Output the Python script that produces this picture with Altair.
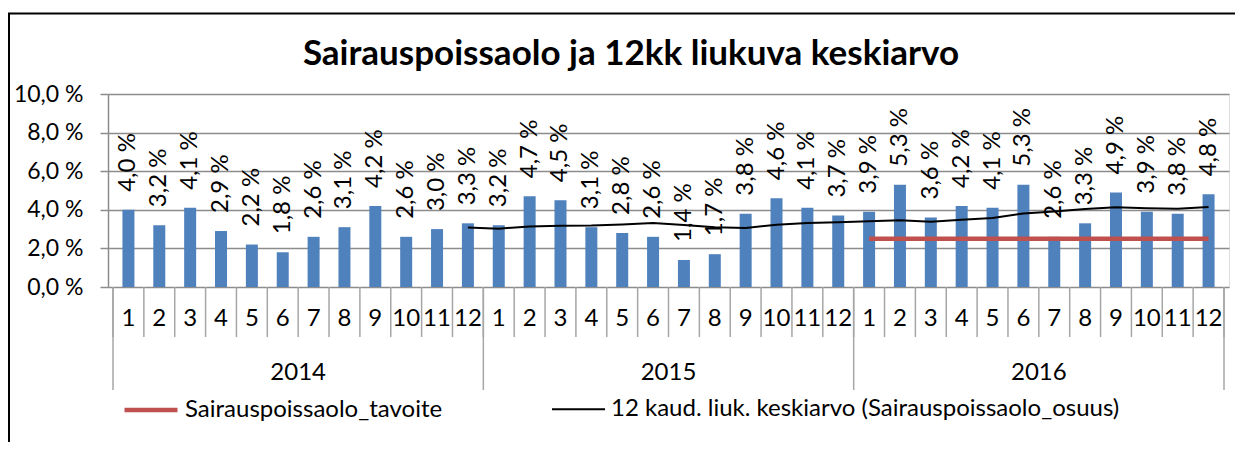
import altair as alt
import pandas as pd

# ---------------- data ----------------
years = ["2014", "2015", "2016"]
months = list(range(1, 13))
values = [4.0, 3.2, 4.1, 2.9, 2.2, 1.8, 2.6, 3.1, 4.2, 2.6, 3.0, 3.3,
          3.2, 4.7, 4.5, 3.1, 2.8, 2.6, 1.4, 1.7, 3.8, 4.6, 4.1, 3.7,
          3.9, 5.3, 3.6, 4.2, 4.1, 5.3, 2.6, 3.3, 4.9, 3.9, 3.8, 4.8]
# 12-month moving average, from 2014-12 to 2016-12
ma_start = 11
ma_values = [3.08, 3.02, 3.14, 3.18, 3.19, 3.24, 3.31, 3.21, 3.09, 3.06, 3.23, 3.32, 3.35,
             3.41, 3.46, 3.38, 3.48, 3.58, 3.81, 3.91, 4.04, 4.13, 4.08, 4.05, 4.14]
# target line, 2016-1 .. 2016-12
target_start = 24
target_values = [2.5] * 12
y_ticks = [0, 2, 4, 6, 8, 10]

series_names = ["Sairauspoissaolo_tavoite",
                "12 kaud. liuk. keskiarvo (Sairauspoissaolo_osuus)"]
title_text = "Sairauspoissaolo ja 12kk liukuva keskiarvo"

# ---------------- tables ----------------
n = len(values)
bars = pd.DataFrame({
    "pos": [i + 0.5 for i in range(n)],
    "value": values,
    "label": [f"{v:.1f}".replace(".", ",") + " %" for v in values],
    "month": [str(months[i % 12]) for i in range(n)],
})
lines = pd.DataFrame(
    [{"pos": target_start + i + 0.5, "v": v, "series": series_names[0]} for i, v in enumerate(target_values)]
    + [{"pos": ma_start + i + 0.5, "v": v, "series": series_names[1]} for i, v in enumerate(ma_values)]
)
month_sep = pd.DataFrame({"k": list(range(n + 1))})
year_sep = pd.DataFrame({"k": [0, 12, 24, 36]})
year_lab = pd.DataFrame({"pos": [6, 18, 30], "year": years})
frame = pd.DataFrame({"t": [title_text]})

W, H = 1121, 193
FONT = "Lato"
FS = 24
GRID = "#8c8c8c"
SEP = "#a6a6a6"

xs = alt.Scale(domain=[0, 36], nice=False, zero=False)
ys = alt.Scale(domain=[0, 10], nice=False)

y_axis = alt.Axis(values=y_ticks,
                  labelExpr="replace(format(datum.value, '.1f'), '.', ',') + ' %'",
                  labelOverlap=False,
                  grid=True, gridColor=GRID, gridWidth=1.5,
                  domainColor=GRID, domainWidth=1.5,
                  tickColor=GRID, tickWidth=1.5, tickSize=8,
                  labelFontSize=23, labelFont=FONT, labelColor="black",
                  labelPadding=17)

base_bars = alt.Chart(bars)

bar = base_bars.mark_bar(size=12, color="#4F81BD").encode(
    x=alt.X("pos:Q", scale=xs, axis=None),
    y=alt.Y("value:Q", scale=ys, title=None, axis=y_axis),
)

labels = base_bars.mark_text(angle=270, align="left", baseline="middle", dx=18,
                             fontSize=FS, font=FONT, color="black").encode(
    x=alt.X("pos:Q", scale=xs, axis=None),
    y=alt.Y("value:Q", scale=ys, title=None, axis=y_axis),
    text="label:N",
)

leg = dict(title=None, orient="none", legendX=14, legendY=287,
           direction="horizontal", symbolType="stroke",
           symbolSize=2809, labelFontSize=FS, labelFont=FONT, labelColor="black",
           labelLimit=0, labelOffset=5, columnPadding=105)

line = alt.Chart(lines).mark_line().encode(
    x=alt.X("pos:Q", scale=xs, axis=None),
    y=alt.Y("v:Q", scale=ys, title=None, axis=y_axis),
    color=alt.Color("series:N",
                    scale=alt.Scale(domain=series_names, range=["#C0504D", "#000000"]),
                    legend=alt.Legend(**leg)),
    strokeWidth=alt.StrokeWidth("series:N",
                                scale=alt.Scale(domain=series_names, range=[4.5, 2]),
                                legend=alt.Legend(**leg)),
    detail="series:N",
)

msep = alt.Chart(month_sep).mark_rule(color=SEP, strokeWidth=1.5).encode(
    x=alt.X("k:Q", scale=xs, axis=None), y=alt.value(H), y2=alt.value(H + 50))
ysep = alt.Chart(year_sep).mark_rule(color=SEP, strokeWidth=1.5).encode(
    x=alt.X("k:Q", scale=xs, axis=None), y=alt.value(H), y2=alt.value(H + 103))
mlab = base_bars.mark_text(fontSize=FS, font=FONT, color="black", baseline="middle").encode(
    x=alt.X("pos:Q", scale=xs, axis=None), y=alt.value(H + 32), text="month:N")
ylab = alt.Chart(year_lab).mark_text(fontSize=FS, font=FONT, color="black", baseline="middle").encode(
    x=alt.X("pos:Q", scale=xs, axis=None), y=alt.value(H + 86), text="year:N")

border = alt.Chart(frame).mark_rect(fill="transparent", stroke="black", strokeWidth=2).encode(
    x=alt.value(-99), x2=alt.value(1300), y=alt.value(-80.5), y2=alt.value(600))
title = alt.Chart(frame).mark_text(font=FONT, fontSize=35, fontWeight="bold", color="black",
                                   baseline="alphabetic", align="center").encode(
    x=alt.value(523), y=alt.value(-29), text="t:N")

chart = alt.layer(border, title, bar, labels, line, msep, ysep, mlab, ylab).properties(
    width=W, height=H,
    autosize=alt.AutoSizeParams(type="none"),
    padding={"left": 100, "top": 86, "right": 6, "bottom": 155},
).configure_view(stroke=None).configure(font=FONT)

chart.save("out.html", embed_options={"renderer": "svg", "actions": False})
